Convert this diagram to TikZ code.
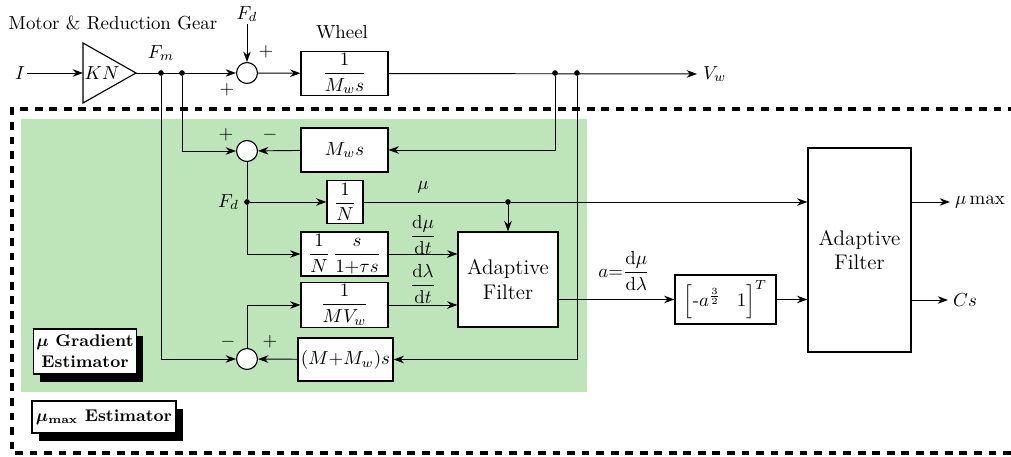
\documentclass[tikz,border=0pt]{standalone}
\usepackage{amsmath,bm}
\usetikzlibrary{arrows.meta,shadows,calc}
\definecolor{estgreen}{RGB}{190,229,185}
\begin{document}
\begin{tikzpicture}[x=0.53pt,y=-0.53pt,
  >={Stealth[length=5.5pt,width=4pt]},
  every path/.style={line width=0.5pt},
  blk/.style={draw, line width=0.6pt, fill=white, inner sep=1pt, minimum height=22.8pt},
  sumc/.style={draw, circle, line width=0.6pt, fill=white, minimum size=11.1pt, inner sep=0pt},
  dotn/.style={circle, fill, inner sep=0pt, minimum size=3pt},
  lbl/.style={inner sep=1pt},
  est/.style={draw, fill=white, font=\small\bfseries, align=center, inner sep=1pt, line width=0.6pt,
    drop shadow={shadow xshift=3.5pt, shadow yshift=-4pt, opacity=1, fill=black}},
  af/.style={blk, align=center, font=\fontsize{11.2}{13}\selectfont},
]
\useasboundingbox (0,0) rectangle (1011,457);
% regions
\fill[estgreen] (21,119) rectangle (587,392);
\draw[line width=1.6pt, dash pattern=on 4.1pt off 3.6pt] (1016,109) -- (12,109) -- (12,453) -- (1016,453);

% ---- plant ----
\node[lbl] (mtr) at (113,23) {Motor \& Reduction Gear};
\node[lbl] (I) at (20,73) {$I$};
\draw[line width=0.6pt] (83,43) -- (136,73) -- (83,103) -- cycle;
\coordinate (kin) at (83,73);
\coordinate (kout) at (136,73);
\node[inner sep=0pt] (kn) at (102,73.5) {$KN$};
\node[lbl] (fm) at (161,53) {$F_m$};
\node[sumc] (s1) at (247,73) {};
\node[lbl] (fdtop) at (247,14) {$F_d$};
\node[lbl] (p1) at (266,52) {$+$};
\node[lbl] (p2) at (227,90) {$+$};
\node[lbl] (whl) at (342,32) {Wheel};
\node[blk, minimum width=46.1pt] (wheel) at (344.5,73.5) {$\dfrac{1}{M_w s}$};
\node[anchor=west, inner sep=3pt] (vw) at (697,74) {$V_w$};
\node[dotn] (d1) at (161,73) {};
\node[dotn] (d2) at (182,73) {};
\node[dotn] (d3) at (555,73) {};
\node[dotn] (d4) at (577,73) {};

% ---- gradient estimator ----
\node[sumc] (s2) at (247,151) {};
\node[lbl] (p3) at (226,135) {$+$};
\node[lbl] (m3) at (270,135) {$-$};
\node[blk, minimum width=46.1pt, minimum height=23.3pt] (mws) at (344.5,150) {$M_w s$};
\node[dotn] (dfd) at (247,202) {};
\node[lbl] (fdl) at (228.5,202) {$F_d$};
\node[blk, minimum width=19.1pt] (bn) at (345,202) {$\dfrac{1}{N}$};
\node[blk, minimum width=46.1pt, minimum height=23.3pt] (bf) at (344.5,254) {$\dfrac{1}{N}\,\dfrac{s}{1{+}\tau s}$};
\node[blk, minimum width=46.1pt, minimum height=23.3pt] (bmv) at (344.5,305) {$\dfrac{1}{MV_w}$};
\node[blk, minimum width=50.4pt] (bmm) at (345.5,359.5) {$(M{+}M_w)s$};
\node[sumc] (s3) at (247,359) {};
\node[lbl] (m4) at (228,342) {$-$};
\node[lbl] (p4) at (270,342) {$+$};
\node[af, minimum width=53pt, minimum height=50.4pt] (saf) at (508,279.5) {Adaptive\\Filter};
\node[dotn] (dmu) at (508,202) {};
\node[lbl] (mul) at (423,187) {$\mu$};
\node[lbl] (dmdt) at (423,235) {$\dfrac{\mathrm{d}\mu}{\mathrm{d}t}$};
\node[lbl] (dldt) at (423,284) {$\dfrac{\mathrm{d}\lambda}{\mathrm{d}t}$};

% ---- max estimator ----
\node[lbl] (al) at (624,271) {$a{=}\dfrac{\mathrm{d}\mu}{\mathrm{d}\lambda}$};
\node[blk, minimum width=53.5pt, minimum height=26pt] (brk) at (725.5,299.5) {$\left[\text{-}a^{\frac{3}{2}}\;\;\; 1\right]^T$};
\node[af, minimum width=54.6pt, minimum height=108.1pt] (baf) at (859.5,250) {Adaptive\\Filter};
\node[anchor=west, inner sep=2.5pt] (mumax) at (950,202) {$\mu\max$};
\node[anchor=west, inner sep=2.5pt] (cs) at (948,300) {$Cs$};

\node[est, minimum width=55pt, minimum height=23.9pt] (ge) at (85,351.5) {$\bm{\mu}$ Gradient\\Estimator};
\node[est, minimum width=76.3pt, minimum height=17pt] (me) at (104,417) {$\bm{\mu}_{\mathbf{max}}$ Estimator};

% ---- connectors ----
\begin{scope}[on background layer/.style={}]
\draw[->] (I) -- (kin);
\draw[->] (kout) -- (s1);
\draw[->] (fdtop) -- (s1);
\draw[->] (s1) -- (wheel);
\draw[->] (wheel) -- (vw);
\draw[->] (d2) |- (s2);
\draw[->] (d3) |- (mws);
\draw[->] (mws) -- (s2);
\draw (s2) -- (dfd);
\draw[->] (dfd) -- (bn);
\draw[->] (dfd) |- (bf);
\draw[->] (d1) |- (s3);
\draw[->] (d4) |- (bmm);
\draw[->] (bmm) -- (s3);
\draw[->] (s3) |- (bmv);
\draw (bn) -- (dmu);
\draw[->] (dmu) -- (dmu -| baf.west);
\draw[->] (dmu) -- (saf);
\draw[->] (bf) -- (bf -| saf.west);
\draw[->] (bmv) -- (bmv -| saf.west);
\draw[->] (saf.east |- brk) -- (brk);
\draw[->] (brk) -- (brk -| baf.west);
\draw[->] (baf.east |- mumax) -- (mumax);
\draw[->] (baf.east |- cs) -- (cs);
\end{scope}
\end{tikzpicture}
\end{document}
